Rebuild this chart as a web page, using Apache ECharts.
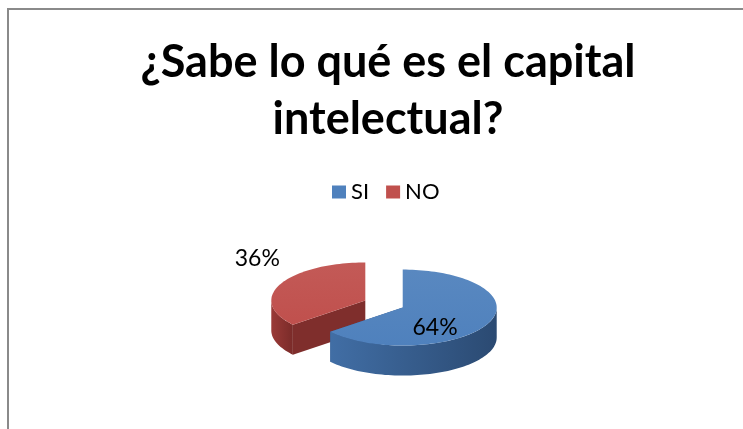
<!DOCTYPE html>
<html>
<head>
<meta charset="utf-8">
<script src="https://cdn.jsdelivr.net/npm/echarts@6/dist/echarts.min.js"></script>
<style>html,body{margin:0;padding:0;background:#fff}#c{width:743px;height:429px}</style>
</head>
<body>
<div id="c"></div>
<script>
const titleText = '¿Sabe lo qué es el capital\nintelectual?';
const categories = ['SI', 'NO'];
const values = [64, 36];
const labels = ['64%', '36%'];

const FONT = 'Lato';
const topColors = ['#4F81BD', '#C0504D'];
const sideColors = [['#416ea5', '#2b4a72'], ['#9a3a37', '#7a2b29']];
const cutColors = ['#34588a', '#7f2e2c'];
const CX = 384, CY = 304, RX = 94, RY = 38, DEPTH = 30, EXPLODE = 0.22;
const labelFactors = [[0.38, 1.21], [1.27, 2.58]];

const total = values.reduce((a, b) => a + b, 0);

function ept(cx, cy, t, dy) { return [cx + RX * Math.sin(t), cy - RY * Math.cos(t) + (dy || 0)]; }
function arc(cx, cy, a0, a1, dy) {
  const pts = [];
  const n = Math.max(2, Math.ceil((a1 - a0) / (Math.PI / 90)));
  for (let k = 0; k <= n; k++) pts.push(ept(cx, cy, a0 + (a1 - a0) * k / n, dy));
  return pts;
}

function makeRender(i) {
  return function (params, api) {
    const v = api.value(0);
    let before = 0;
    for (let j = 0; j < i; j++) before += values[j];
    const a0 = before / total * 2 * Math.PI;
    const a1 = (before + v) / total * 2 * Math.PI;
    const am = (a0 + a1) / 2;
    const cx = CX + EXPLODE * RX * Math.sin(am);
    const cy = CY - EXPLODE * RY * Math.cos(am);
    const children = [];
    [a0, a1].forEach(a => {
      const p = ept(cx, cy, a);
      children.push({
        type: 'polygon',
        shape: { points: [[cx, cy], p, [p[0], p[1] + DEPTH], [cx, cy + DEPTH]] },
        style: { fill: cutColors[i] }
      });
    });
    const s = Math.max(a0, Math.PI / 2), e = Math.min(a1, 3 * Math.PI / 2);
    if (e > s) {
      const topArc = arc(cx, cy, s, e, 0);
      const botArc = arc(cx, cy, s, e, DEPTH).reverse();
      children.push({
        type: 'polygon',
        shape: { points: topArc.concat(botArc) },
        style: {
          fill: new echarts.graphic.LinearGradient(0, 0, 1, 0, [
            { offset: 0, color: sideColors[i][0] },
            { offset: 1, color: sideColors[i][1] }
          ])
        }
      });
    }
    children.push({
      type: 'polygon',
      shape: { points: [[cx, cy]].concat(arc(cx, cy, a0, a1, 0)) },
      style: {
        fill: new echarts.graphic.LinearGradient(0, 0, 0, 1, [
          { offset: 0, color: echarts.color.lift(topColors[i], 0.06) },
          { offset: 1, color: topColors[i] }
        ])
      }
    });
    const f = labelFactors[i];
    children.push({
      type: 'text',
      style: {
        x: cx + f[0] * RX * Math.sin(am),
        y: cy - f[1] * RY * Math.cos(am),
        text: labels[i],
        fill: '#000',
        font: '23px ' + FONT,
        align: 'center',
        verticalAlign: 'middle'
      }
    });
    return { type: 'group', children: children };
  };
}

const chart = echarts.init(document.getElementById('c'), null, { renderer: 'canvas' });
const series = [];
[1, 0].forEach(i => {
  series.push({
    type: 'custom',
    name: categories[i],
    coordinateSystem: 'none',
    itemStyle: { color: topColors[i] },
    data: [[values[i]]],
    renderItem: makeRender(i),
    silent: true
  });
});

chart.setOption({
  animation: false,
  backgroundColor: '#fff',
  title: {
    text: titleText,
    left: 383,
    top: 29,
    textAlign: 'center',
    textStyle: { fontFamily: FONT, fontWeight: 'bold', fontSize: 45, lineHeight: 57, color: '#000' }
  },
  legend: {
    data: categories,
    left: 327,
    top: 176,
    icon: 'rect',
    itemWidth: 14,
    itemHeight: 13,
    itemGap: 17,
    textStyle: { fontFamily: FONT, fontSize: 22, color: '#000' }
  },
  graphic: [{
    type: 'rect',
    shape: { x: 8, y: 9, width: 800, height: 500 },
    style: { fill: null, stroke: '#8a8a8a', lineWidth: 2 },
    z: 100
  }],
  series: series
});
</script>
</body>
</html>
